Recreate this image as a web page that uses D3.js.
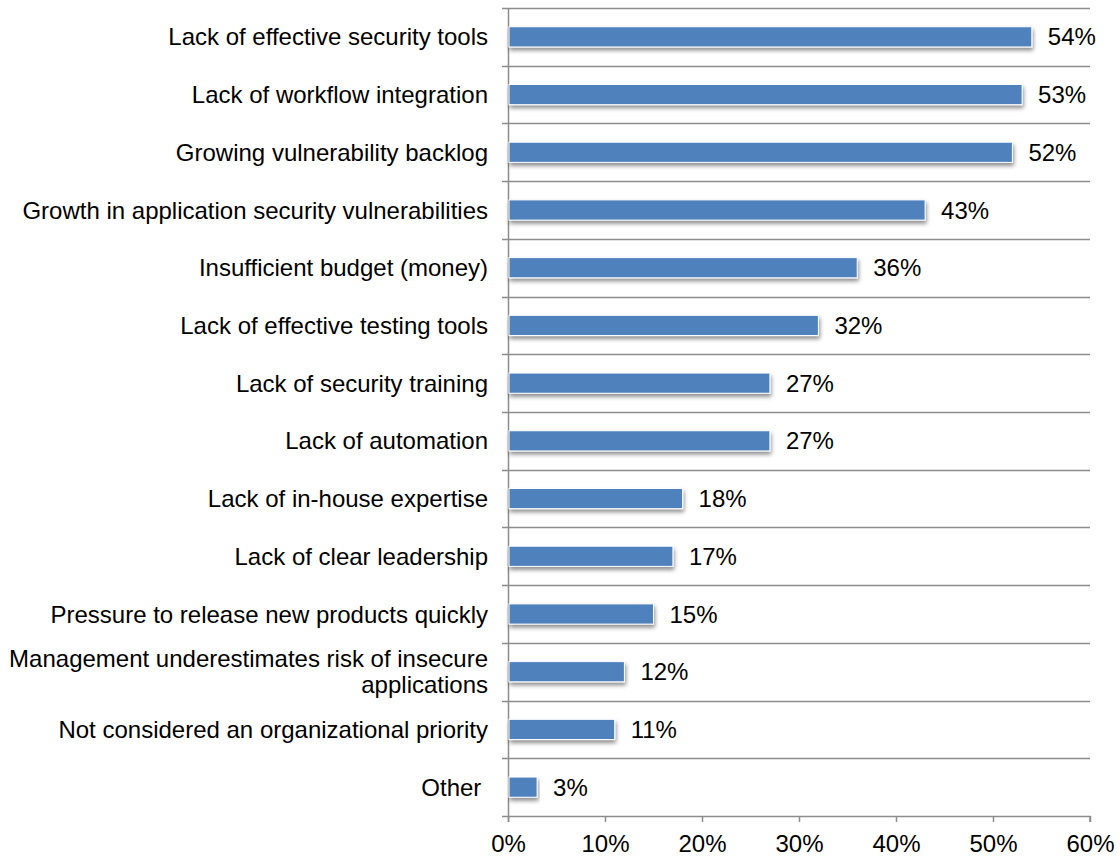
<!DOCTYPE html>
<html>
<head>
<meta charset="utf-8">
<script src="https://cdn.jsdelivr.net/npm/d3@7"></script>
<style>
  html, body { margin: 0; padding: 0; background: #fff; }
  svg { display: block; font-family: "Liberation Sans", Arial, sans-serif; }
</style>
</head>
<body>
<svg id="chart" width="1120" height="856"></svg>
<script>
// Challenges reported, share of respondents
const categories = [
  "Lack of effective security tools",
  "Lack of workflow integration",
  "Growing vulnerability backlog",
  "Growth in application security vulnerabilities",
  "Insufficient budget (money)",
  "Lack of effective testing tools",
  "Lack of security training",
  "Lack of automation",
  "Lack of in-house expertise",
  "Lack of clear leadership",
  "Pressure to release new products quickly",
  "Management underestimates risk of insecure applications",
  "Not considered an organizational priority",
  "Other "
];
const values = [54, 53, 52, 43, 36, 32, 27, 27, 18, 17, 15, 12, 11, 3];
const xTicks = [0, 10, 20, 30, 40, 50, 60];

// Long labels are split onto two lines
const labelLines = {
  "Management underestimates risk of insecure applications":
    ["Management underestimates risk of insecure", "applications"]
};

const svg = d3.select("#chart");
const plotLeft = 508, plotRight = 1090, plotTop = 8, plotBottom = 816;
const fontSize = 24;

const x = d3.scaleLinear().domain([0, 60]).range([plotLeft, plotRight]);
const y = d3.scaleBand().domain(categories).range([plotTop, plotBottom]).paddingInner(0.65).paddingOuter(0.325);
const rowStep = (plotBottom - plotTop) / categories.length;

const defs = svg.append("defs");
const shadow = defs.append("filter").attr("id", "barShadow")
  .attr("x", "-5%").attr("y", "-30%").attr("width", "115%").attr("height", "190%");
shadow.append("feGaussianBlur").attr("in", "SourceAlpha").attr("stdDeviation", 2).attr("result", "b");
shadow.append("feOffset").attr("in", "b").attr("dx", 1).attr("dy", 3).attr("result", "o");
shadow.append("feComponentTransfer").attr("in", "o").attr("result", "s")
  .append("feFuncA").attr("type", "linear").attr("slope", 0.45);
const merge = shadow.append("feMerge");
merge.append("feMergeNode").attr("in", "s");
merge.append("feMergeNode").attr("in", "SourceGraphic");

const gridColor = "#8c8c8c";

// Row separators (also act as category ticks on the left)
const sepYs = d3.range(categories.length + 1).map(i => plotTop + i * rowStep);
svg.append("g").selectAll("line").data(sepYs.slice(0, -1)).join("line")
  .attr("x1", plotLeft - 6).attr("x2", plotRight)
  .attr("y1", d => Math.round(d) + 0.5).attr("y2", d => Math.round(d) + 0.5)
  .attr("stroke", gridColor).attr("stroke-width", 1.5);

// Bottom axis
const xAxis = d3.axisBottom(x).tickValues(xTicks).tickFormat(d => d + "%").tickSize(6).tickPadding(13);
const gx = svg.append("g").attr("transform", `translate(0,${plotBottom})`).call(xAxis);
gx.select(".domain").attr("stroke", gridColor).attr("stroke-width", 1.5)
  .attr("d", `M${plotLeft - 6},0.5H${plotRight}V6`);
gx.selectAll(".tick line").attr("stroke", gridColor).attr("stroke-width", 1.5);
gx.selectAll(".tick text").attr("font-size", fontSize).attr("fill", "#000")
  .attr("font-family", "'Liberation Sans', Arial, sans-serif");

// Vertical axis line
svg.append("line").attr("x1", plotLeft + 0.5).attr("x2", plotLeft + 0.5)
  .attr("y1", plotTop).attr("y2", plotBottom + 6)
  .attr("stroke", gridColor).attr("stroke-width", 1.5);

// Bars
svg.append("g").selectAll("rect").data(categories).join("rect")
  .attr("x", x(0) + 1)
  .attr("y", d => y(d))
  .attr("width", (d, i) => x(values[i]) - x(0) - 1)
  .attr("height", y.bandwidth())
  .attr("fill", "#4f81bd")
  .attr("stroke", "#ffffff").attr("stroke-width", 1)
  .attr("filter", "url(#barShadow)");

// Value labels
svg.append("g").selectAll("text").data(categories).join("text")
  .attr("x", (d, i) => x(values[i]) + 16)
  .attr("y", d => y(d) + y.bandwidth() / 2)
  .attr("dy", "0.36em")
  .attr("font-size", fontSize).attr("fill", "#000")
  .text((d, i) => values[i] + "%");

// Category labels
const lab = svg.append("g").selectAll("text").data(categories).join("text")
  .attr("x", 488)
  .attr("y", d => y(d) + y.bandwidth() / 2)
  .attr("text-anchor", "end")
  .style("white-space", "pre")
  .attr("font-size", fontSize).attr("fill", "#000");
lab.each(function(d) {
  const lines = labelLines[d] || [d];
  const t = d3.select(this);
  const lh = 26;
  lines.forEach((ln, k) => {
    t.append("tspan").attr("x", 488)
      .attr("dy", k === 0 ? (0.36 * fontSize - (lines.length - 1) * lh / 2) + "px" : lh + "px")
      .text(ln);
  });
});
</script>
</body>
</html>
